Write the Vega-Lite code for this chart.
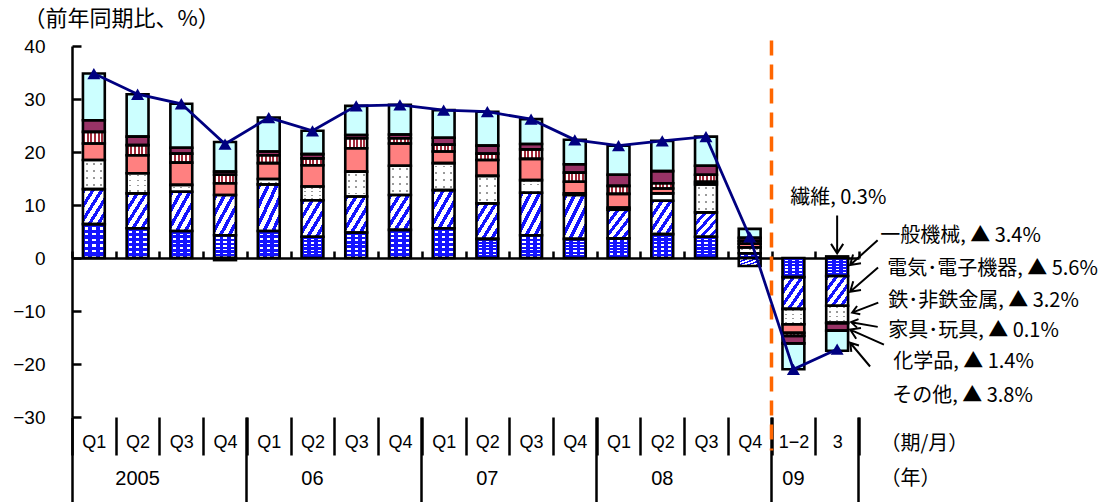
{
  "$schema": "https://vega.github.io/schema/vega-lite/v6.json",
  "width": 787,
  "height": 371,
  "autosize": {"type": "none"},
  "padding": {"left": 72, "top": 46, "right": 243, "bottom": 85},
  "background": "white",
  "config": {"view": {"stroke": null}, "axis": {"grid": false}, "font": "Liberation Sans"},
  "data": {
    "values": [
      {"p": "2005|Q1", "一般機械": 6.4, "電気･電子機器": 6.6, "鉄･非鉄金属": 5.5, "繊維": 3.1, "家具･玩具": 2.2, "化学品": 2.2, "その他": 8.8},
      {"p": "2005|Q2", "一般機械": 5.6, "電気･電子機器": 6.6, "鉄･非鉄金属": 3.8, "繊維": 3.4, "家具･玩具": 1.9, "化学品": 1.6, "その他": 8.0},
      {"p": "2005|Q3", "一般機械": 5.1, "電気･電子機器": 7.4, "鉄･非鉄金属": 1.3, "繊維": 4.2, "家具･玩具": 1.7, "化学品": 1.1, "その他": 8.3},
      {"p": "2005|Q4", "一般機械": 4.3, "電気･電子機器": 7.6, "鉄･非鉄金属": -0.4, "繊維": 2.2, "家具･玩具": 1.6, "化学品": 0.6, "その他": 5.6},
      {"p": "2006|Q1", "一般機械": 5.1, "電気･電子機器": 8.8, "鉄･非鉄金属": 1.0, "繊維": 3.0, "家具･玩具": 1.5, "化学品": 0.7, "その他": 6.4},
      {"p": "2006|Q2", "一般機械": 4.0, "電気･電子機器": 6.9, "鉄･非鉄金属": 2.6, "繊維": 4.0, "家具･玩具": 1.3, "化学品": 0.8, "その他": 4.4},
      {"p": "2006|Q3", "一般機械": 4.8, "電気･電子機器": 6.8, "鉄･非鉄金属": 4.7, "繊維": 4.4, "家具･玩具": 1.9, "化学品": 0.6, "その他": 5.5},
      {"p": "2006|Q4", "一般機械": 5.3, "電気･電子機器": 6.6, "鉄･非鉄金属": 5.5, "繊維": 4.2, "家具･玩具": 1.0, "化学品": 0.7, "その他": 5.6},
      {"p": "2007|Q1", "一般機械": 5.6, "電気･電子機器": 7.2, "鉄･非鉄金属": 5.1, "繊維": 2.2, "家具･玩具": 1.3, "化学品": 1.3, "その他": 5.2},
      {"p": "2007|Q2", "一般機械": 3.6, "電気･電子機器": 6.7, "鉄･非鉄金属": 5.2, "繊維": 3.0, "家具･玩具": 1.2, "化学品": 1.5, "その他": 6.4},
      {"p": "2007|Q3", "一般機械": 4.3, "電気･電子機器": 8.0, "鉄･非鉄金属": 2.4, "繊維": 4.0, "家具･玩具": 1.8, "化学品": 1.0, "その他": 4.7},
      {"p": "2007|Q4", "一般機械": 3.6, "電気･電子機器": 8.3, "鉄･非鉄金属": 0.3, "繊維": 2.2, "家具･玩具": 1.7, "化学品": 1.6, "その他": 4.6},
      {"p": "2008|Q1", "一般機械": 3.7, "電気･電子機器": 5.4, "鉄･非鉄金属": 0.4, "繊維": 2.6, "家具･玩具": 1.5, "化学品": 2.1, "その他": 5.5},
      {"p": "2008|Q2", "一般機械": 4.5, "電気･電子機器": 6.3, "鉄･非鉄金属": 1.4, "繊維": 0.9, "家具･玩具": 1.0, "化学品": 2.3, "その他": 5.7},
      {"p": "2008|Q3", "一般機械": 4.0, "電気･電子機器": 4.6, "鉄･非鉄金属": 5.3, "繊維": 0.5, "家具･玩具": 1.3, "化学品": 1.7, "その他": 5.5},
      {"p": "2008|Q4", "一般機械": 0.9, "電気･電子機器": -1.5, "鉄･非鉄金属": 1.1, "繊維": 0.7, "家具･玩具": 0.5, "化学品": 0.6, "その他": 1.7},
      {"p": "2009|1−2", "一般機械": -3.6, "電気･電子機器": -6.0, "鉄･非鉄金属": -2.9, "繊維": -1.6, "家具･玩具": -0.6, "化学品": -1.4, "その他": -4.9},
      {"p": "2009|3", "一般機械": -3.4, "電気･電子機器": -5.6, "鉄･非鉄金属": -3.2, "繊維": 0.3, "家具･玩具": -0.1, "化学品": -1.4, "その他": -3.8}
    ]
  },
  "transform": [
    {"fold": ["一般機械", "電気･電子機器", "鉄･非鉄金属", "繊維", "家具･玩具", "化学品", "その他"], "as": ["cat", "v"]},
    {"stack": "v", "groupby": ["p"], "as": ["v0", "v1"]},
    {"calculate": "datum.cat + ', ' + (datum.v < 0 ? '▲ ' + format(-datum.v, '.1f') : format(datum.v, '.1f')) + '%'", "as": "lbl"}
  ],
  "resolve": {"axis": {"x": "independent"}},
  "layer": [
    {
      "mark": {"type": "bar", "width": {"band": 0.5}},
      "encoding": {
        "x": {
          "field": "p", "type": "nominal",
          "scale": {"domain": ["2005|Q1","2005|Q2","2005|Q3","2005|Q4","2006|Q1","2006|Q2","2006|Q3","2006|Q4","2007|Q1","2007|Q2","2007|Q3","2007|Q4","2008|Q1","2008|Q2","2008|Q3","2008|Q4","2009|1−2","2009|3"], "paddingInner": 0, "paddingOuter": 0},
          "axis": {
            "orient": "bottom", "tickBand": "extent", "domain": false, "ticks": true,
            "tickSize": 38, "tickWidth": 2.5, "tickColor": "#000",
            "labelExpr": "split(datum.value, '|')[1]", "labelAngle": 0, "labelFontSize": 18,
            "labelPadding": -22, "labelColor": "#000", "labelOverlap": false,
            "title": "（期/月）", "titleX": 808, "titleY": 26, "titleAlign": "left", "titleBaseline": "middle",
            "titleFont": "Noto Sans CJK JP", "titleFontSize": 20, "titleFontWeight": "normal", "titleColor": "#000", "titleAngle": 0
          }
        },
        "y": {
          "field": "v0", "type": "quantitative",
          "scale": {"domain": [-30, 40], "nice": false, "zero": false},
          "axis": {
            "orient": "left", "values": [-30, -20, -10, 0, 10, 20, 30, 40],
            "domainColor": "#000", "domainWidth": 2.5,
            "tickColor": "#000", "tickWidth": 2.5, "tickSize": -9,
            "labelFontSize": 19, "labelColor": "#000", "labelPadding": 36, "labelFlush": false, "labelOverlap": false,
            "title": "（前年同期比、%）", "titleAngle": 0, "titleX": -49, "titleY": -28, "titleAlign": "left", "titleBaseline": "middle",
            "titleFont": "Noto Sans CJK JP", "titleFontSize": 22, "titleFontWeight": "normal", "titleColor": "#000"
          }
        },
        "y2": {"field": "v1"},
        "color": {
          "field": "cat", "type": "nominal",
          "scale": {
            "domain": ["一般機械", "電気･電子機器", "鉄･非鉄金属", "繊維", "家具･玩具", "化学品", "その他"],
            "range": ["#ffffff", "#ffffff", "#9a9a9a", "#ff8080", "#ffffff", "#993366", "#ccffff"]
          },
          "legend": null
        }
      }
    },
    {
      "transform": [{"filter": "datum.cat === '一般機械'"}],
      "mark": {
        "type": "bar", "width": {"band": 0.5},
        "color": {"gradient": "linear", "x1": 0, "y1": 0, "x2": 0, "y2": 1, "stops": [
          {"offset": 0, "color": "#1414ff"}, {"offset": 0.1, "color": "#1414ff"}, {"offset": 0.1, "color": "rgba(20,20,255,0)"}, {"offset": 0.1667, "color": "rgba(20,20,255,0)"},
          {"offset": 0.1667, "color": "#1414ff"}, {"offset": 0.2667, "color": "#1414ff"}, {"offset": 0.2667, "color": "rgba(20,20,255,0)"}, {"offset": 0.3333, "color": "rgba(20,20,255,0)"},
          {"offset": 0.3333, "color": "#1414ff"}, {"offset": 0.4333, "color": "#1414ff"}, {"offset": 0.4333, "color": "rgba(20,20,255,0)"}, {"offset": 0.5, "color": "rgba(20,20,255,0)"},
          {"offset": 0.5, "color": "#1414ff"}, {"offset": 0.6, "color": "#1414ff"}, {"offset": 0.6, "color": "rgba(20,20,255,0)"}, {"offset": 0.6667, "color": "rgba(20,20,255,0)"},
          {"offset": 0.6667, "color": "#1414ff"}, {"offset": 0.7667, "color": "#1414ff"}, {"offset": 0.7667, "color": "rgba(20,20,255,0)"}, {"offset": 0.8333, "color": "rgba(20,20,255,0)"},
          {"offset": 0.8333, "color": "#1414ff"}, {"offset": 0.9333, "color": "#1414ff"}, {"offset": 0.9333, "color": "rgba(20,20,255,0)"}, {"offset": 1, "color": "rgba(20,20,255,0)"}
        ]}
      },
      "encoding": {
        "x": {"field": "p", "type": "nominal", "axis": {
          "orient": "bottom", "values": ["2005|Q4", "2006|Q4", "2007|Q4", "2008|Q4", "2009|3"], "bandPosition": 1,
          "domain": false, "labels": false, "ticks": true, "tickSize": 85, "tickWidth": 2.5, "tickColor": "#000", "title": null
        }},
        "y": {"field": "v0", "type": "quantitative"},
        "y2": {"field": "v1"}
      }
    },
    {
      "transform": [{"filter": "datum.cat === '一般機械'"}],
      "mark": {
        "type": "bar", "width": {"band": 0.5},
        "color": {"gradient": "linear", "x1": 0, "y1": 0, "x2": 1, "y2": 0, "stops": [
          {"offset": 0, "color": "#1414ff"}, {"offset": 0.1, "color": "#1414ff"}, {"offset": 0.1, "color": "rgba(20,20,255,0)"}, {"offset": 0.25, "color": "rgba(20,20,255,0)"},
          {"offset": 0.25, "color": "#1414ff"}, {"offset": 0.43, "color": "#1414ff"}, {"offset": 0.43, "color": "rgba(20,20,255,0)"}, {"offset": 0.58, "color": "rgba(20,20,255,0)"},
          {"offset": 0.58, "color": "#1414ff"}, {"offset": 0.76, "color": "#1414ff"}, {"offset": 0.76, "color": "rgba(20,20,255,0)"}, {"offset": 0.91, "color": "rgba(20,20,255,0)"},
          {"offset": 0.91, "color": "#1414ff"}, {"offset": 1, "color": "#1414ff"}
        ]}
      },
      "encoding": {
        "x": {"field": "p", "type": "nominal", "axis": {
          "orient": "bottom", "values": ["2005|Q1"], "bandPosition": 0,
          "domain": false, "labels": false, "ticks": true, "tickSize": 85, "tickWidth": 2.5, "tickColor": "#000", "title": null
        }},
        "y": {"field": "v0", "type": "quantitative"},
        "y2": {"field": "v1"}
      }
    },
    {
      "transform": [{"filter": "datum.cat === '電気･電子機器'"}],
      "mark": {
        "type": "bar", "width": {"band": 0.5},
        "color": {"gradient": "linear", "x1": 0, "y1": 0, "x2": 1, "y2": 1, "stops": [
          {"offset": 0, "color": "#1414ff"}, {"offset": 0.09, "color": "#1414ff"}, {"offset": 0.09, "color": "rgba(20,20,255,0)"}, {"offset": 0.2, "color": "rgba(20,20,255,0)"},
          {"offset": 0.2, "color": "#1414ff"}, {"offset": 0.29, "color": "#1414ff"}, {"offset": 0.29, "color": "rgba(20,20,255,0)"}, {"offset": 0.4, "color": "rgba(20,20,255,0)"},
          {"offset": 0.4, "color": "#1414ff"}, {"offset": 0.49, "color": "#1414ff"}, {"offset": 0.49, "color": "rgba(20,20,255,0)"}, {"offset": 0.6, "color": "rgba(20,20,255,0)"},
          {"offset": 0.6, "color": "#1414ff"}, {"offset": 0.69, "color": "#1414ff"}, {"offset": 0.69, "color": "rgba(20,20,255,0)"}, {"offset": 0.8, "color": "rgba(20,20,255,0)"},
          {"offset": 0.8, "color": "#1414ff"}, {"offset": 0.89, "color": "#1414ff"}, {"offset": 0.89, "color": "rgba(20,20,255,0)"}, {"offset": 1, "color": "rgba(20,20,255,0)"}
        ]}
      },
      "encoding": {
        "x": {"field": "p", "type": "nominal", "axis": {
          "orient": "bottom", "values": ["2005|Q2", "2006|Q2", "2007|Q2", "2008|Q2", "2009|1−2"], "bandPosition": 1,
          "domain": false, "ticks": false,
          "labelExpr": "split(datum.value, '|')[0] === '2005' ? '2005' : substring(split(datum.value, '|')[0], 2, 4)",
          "labelAngle": 0, "labelFontSize": 20, "labelPadding": 51, "labelColor": "#000", "labelOverlap": false,
          "title": "（年）", "titleX": 808, "titleY": 61, "titleAlign": "left", "titleBaseline": "middle",
          "titleFont": "Noto Sans CJK JP", "titleFontSize": 20, "titleFontWeight": "normal", "titleColor": "#000", "titleAngle": 0
        }},
        "y": {"field": "v0", "type": "quantitative"},
        "y2": {"field": "v1"}
      }
    },
    {
      "transform": [{"filter": "datum.cat === '鉄･非鉄金属'"}],
      "mark": {
        "type": "bar", "width": {"band": 0.5},
        "color": {"gradient": "linear", "x1": 0, "y1": 0, "x2": 0, "y2": 1, "stops": [
          {"offset": 0, "color": "#ffffff"}, {"offset": 0.09, "color": "#ffffff"}, {"offset": 0.09, "color": "rgba(255,255,255,0)"}, {"offset": 0.16, "color": "rgba(255,255,255,0)"},
          {"offset": 0.16, "color": "#ffffff"}, {"offset": 0.34, "color": "#ffffff"}, {"offset": 0.34, "color": "rgba(255,255,255,0)"}, {"offset": 0.41, "color": "rgba(255,255,255,0)"},
          {"offset": 0.41, "color": "#ffffff"}, {"offset": 0.59, "color": "#ffffff"}, {"offset": 0.59, "color": "rgba(255,255,255,0)"}, {"offset": 0.66, "color": "rgba(255,255,255,0)"},
          {"offset": 0.66, "color": "#ffffff"}, {"offset": 0.84, "color": "#ffffff"}, {"offset": 0.84, "color": "rgba(255,255,255,0)"}, {"offset": 0.91, "color": "rgba(255,255,255,0)"},
          {"offset": 0.91, "color": "#ffffff"}, {"offset": 1, "color": "#ffffff"}
        ]}
      },
      "encoding": {
        "x": {"field": "p", "type": "nominal", "axis": {
          "orient": "top", "offset": -212, "tickBand": "extent",
          "domain": true, "domainColor": "#000", "domainWidth": 2.5,
          "ticks": true, "tickSize": 7, "tickWidth": 2.5, "tickColor": "#000", "labels": false, "title": null
        }},
        "y": {"field": "v0", "type": "quantitative"},
        "y2": {"field": "v1"}
      }
    },
    {
      "transform": [{"filter": "datum.cat === '鉄･非鉄金属'"}],
      "mark": {
        "type": "bar", "width": {"band": 0.5},
        "color": {"gradient": "linear", "x1": 0, "y1": 0, "x2": 1, "y2": 0, "stops": [
          {"offset": 0, "color": "#ffffff"}, {"offset": 0.12, "color": "#ffffff"}, {"offset": 0.12, "color": "rgba(255,255,255,0)"}, {"offset": 0.21, "color": "rgba(255,255,255,0)"},
          {"offset": 0.21, "color": "#ffffff"}, {"offset": 0.455, "color": "#ffffff"}, {"offset": 0.455, "color": "rgba(255,255,255,0)"}, {"offset": 0.545, "color": "rgba(255,255,255,0)"},
          {"offset": 0.545, "color": "#ffffff"}, {"offset": 0.79, "color": "#ffffff"}, {"offset": 0.79, "color": "rgba(255,255,255,0)"}, {"offset": 0.88, "color": "rgba(255,255,255,0)"},
          {"offset": 0.88, "color": "#ffffff"}, {"offset": 1, "color": "#ffffff"}
        ]}
      },
      "encoding": {
        "x": {"field": "p", "type": "nominal", "axis": {
          "orient": "top", "offset": 6, "values": ["2009|1−2"], "bandPosition": 0,
          "domain": false, "labels": false, "ticks": true, "tickSize": -410, "tickWidth": 3.5,
          "tickColor": "#ff6600", "tickDash": [15, 9], "title": null
        }},
        "y": {"field": "v0", "type": "quantitative"},
        "y2": {"field": "v1"}
      }
    },
    {
      "transform": [{"filter": "datum.cat === '家具･玩具'"}],
      "mark": {
        "type": "bar", "width": {"band": 0.5},
        "color": {"gradient": "linear", "x1": 0, "y1": 0, "x2": 1, "y2": 0, "stops": [
          {"offset": 0, "color": "#a12a3a"}, {"offset": 0.0917, "color": "#a12a3a"}, {"offset": 0.0917, "color": "rgba(161,42,58,0)"}, {"offset": 0.1667, "color": "rgba(161,42,58,0)"},
          {"offset": 0.1667, "color": "#a12a3a"}, {"offset": 0.2583, "color": "#a12a3a"}, {"offset": 0.2583, "color": "rgba(161,42,58,0)"}, {"offset": 0.3333, "color": "rgba(161,42,58,0)"},
          {"offset": 0.3333, "color": "#a12a3a"}, {"offset": 0.425, "color": "#a12a3a"}, {"offset": 0.425, "color": "rgba(161,42,58,0)"}, {"offset": 0.5, "color": "rgba(161,42,58,0)"},
          {"offset": 0.5, "color": "#a12a3a"}, {"offset": 0.5917, "color": "#a12a3a"}, {"offset": 0.5917, "color": "rgba(161,42,58,0)"}, {"offset": 0.6667, "color": "rgba(161,42,58,0)"},
          {"offset": 0.6667, "color": "#a12a3a"}, {"offset": 0.7583, "color": "#a12a3a"}, {"offset": 0.7583, "color": "rgba(161,42,58,0)"}, {"offset": 0.8333, "color": "rgba(161,42,58,0)"},
          {"offset": 0.8333, "color": "#a12a3a"}, {"offset": 0.925, "color": "#a12a3a"}, {"offset": 0.925, "color": "rgba(161,42,58,0)"}, {"offset": 1, "color": "rgba(161,42,58,0)"}
        ]}
      },
      "encoding": {
        "x": {"field": "p", "type": "nominal", "axis": null},
        "y": {"field": "v0", "type": "quantitative"},
        "y2": {"field": "v1"}
      }
    },
    {
      "mark": {"type": "bar", "width": {"band": 0.5}, "fillOpacity": 0, "stroke": "#000", "strokeWidth": 2.6},
      "encoding": {
        "x": {"field": "p", "type": "nominal", "axis": null},
        "y": {"field": "v0", "type": "quantitative"},
        "y2": {"field": "v1"}
      }
    },
    {
      "mark": {"type": "line", "color": "#000080", "strokeWidth": 2.8,
        "point": {"shape": "triangle-up", "size": 170, "color": "#000080", "filled": true, "opacity": 1}},
      "encoding": {
        "x": {"field": "p", "type": "nominal", "axis": null},
        "y": {"aggregate": "sum", "field": "v", "type": "quantitative"}
      }
    },
    {
      "transform": [{"filter": "datum.p === '2009|3' && datum.cat === '繊維'"}],
      "mark": {"type": "text", "align": "left", "baseline": "middle", "dx": -47, "dy": -58, "font": "Noto Sans CJK JP", "fontSize": 20, "color": "#000"},
      "encoding": {"x": {"field": "p", "type": "nominal", "axis": null}, "y": {"field": "v1", "type": "quantitative"}, "text": {"field": "lbl"}}
    },
    {
      "transform": [{"filter": "datum.p === '2009|3' && datum.cat === '繊維'"}],
      "mark": {"type": "point", "shape": "M0,0L-2,0M-0.5,-0.32L0,0L-0.5,0.32", "size": 1444, "angle": 90, "filled": false, "color": "#000", "stroke": "#000", "strokeWidth": 2, "opacity": 1, "xOffset": 0, "yOffset": -3},
      "encoding": {"x": {"field": "p", "type": "nominal", "axis": null}, "y": {"field": "v1", "type": "quantitative"}}
    },
    {
      "transform": [{"filter": "datum.p === '2009|3' && datum.cat === '一般機械'"}],
      "mark": {"type": "text", "align": "left", "baseline": "middle", "dx": 43, "dy": -40, "font": "Noto Sans CJK JP", "fontSize": 20, "color": "#000"},
      "encoding": {"x": {"field": "p", "type": "nominal", "axis": null}, "y": {"field": "v1", "type": "quantitative"}, "text": {"field": "lbl"}}
    },
    {
      "transform": [{"filter": "datum.p === '2009|3' && datum.cat === '一般機械'"}],
      "mark": {"type": "point", "shape": "M0,0L-2,0M-0.5,-0.32L0,0L-0.5,0.32", "size": 1369, "angle": 138, "filled": false, "color": "#000", "stroke": "#000", "strokeWidth": 2, "opacity": 1, "xOffset": 13, "yOffset": -11},
      "encoding": {"x": {"field": "p", "type": "nominal", "axis": null}, "y": {"field": "v1", "type": "quantitative"}}
    },
    {
      "transform": [{"filter": "datum.p === '2009|3' && datum.cat === '電気･電子機器'"}],
      "mark": {"type": "text", "align": "left", "baseline": "middle", "dx": 50, "dy": -37, "font": "Noto Sans CJK JP", "fontSize": 20, "color": "#000"},
      "encoding": {"x": {"field": "p", "type": "nominal", "axis": null}, "y": {"field": "v1", "type": "quantitative"}, "text": {"field": "lbl"}}
    },
    {
      "transform": [{"filter": "datum.p === '2009|3' && datum.cat === '電気･電子機器'"}],
      "mark": {"type": "point", "shape": "M0,0L-2,0M-0.5,-0.32L0,0L-0.5,0.32", "size": 1369, "angle": 139, "filled": false, "color": "#000", "stroke": "#000", "strokeWidth": 2, "opacity": 1, "xOffset": 13, "yOffset": -14},
      "encoding": {"x": {"field": "p", "type": "nominal", "axis": null}, "y": {"field": "v1", "type": "quantitative"}}
    },
    {
      "transform": [{"filter": "datum.p === '2009|3' && datum.cat === '鉄･非鉄金属'"}],
      "mark": {"type": "text", "align": "left", "baseline": "middle", "dx": 51, "dy": -22, "font": "Noto Sans CJK JP", "fontSize": 20, "color": "#000"},
      "encoding": {"x": {"field": "p", "type": "nominal", "axis": null}, "y": {"field": "v1", "type": "quantitative"}, "text": {"field": "lbl"}}
    },
    {
      "transform": [{"filter": "datum.p === '2009|3' && datum.cat === '鉄･非鉄金属'"}],
      "mark": {"type": "point", "shape": "M0,0L-2,0M-0.5,-0.32L0,0L-0.5,0.32", "size": 784, "angle": 159, "filled": false, "color": "#000", "stroke": "#000", "strokeWidth": 2, "opacity": 1, "xOffset": 15, "yOffset": -10},
      "encoding": {"x": {"field": "p", "type": "nominal", "axis": null}, "y": {"field": "v1", "type": "quantitative"}}
    },
    {
      "transform": [{"filter": "datum.p === '2009|3' && datum.cat === '家具･玩具'"}],
      "mark": {"type": "text", "align": "left", "baseline": "middle", "dx": 51, "dy": 8, "font": "Noto Sans CJK JP", "fontSize": 20, "color": "#000"},
      "encoding": {"x": {"field": "p", "type": "nominal", "axis": null}, "y": {"field": "v1", "type": "quantitative"}, "text": {"field": "lbl"}}
    },
    {
      "transform": [{"filter": "datum.p === '2009|3' && datum.cat === '家具･玩具'"}],
      "mark": {"type": "point", "shape": "M0,0L-2,0M-0.5,-0.32L0,0L-0.5,0.32", "size": 729, "angle": 190, "filled": false, "color": "#000", "stroke": "#000", "strokeWidth": 2, "opacity": 1, "xOffset": 14, "yOffset": -1},
      "encoding": {"x": {"field": "p", "type": "nominal", "axis": null}, "y": {"field": "v1", "type": "quantitative"}}
    },
    {
      "transform": [{"filter": "datum.p === '2009|3' && datum.cat === '化学品'"}],
      "mark": {"type": "text", "align": "left", "baseline": "middle", "dx": 56, "dy": 31, "font": "Noto Sans CJK JP", "fontSize": 20, "color": "#000"},
      "encoding": {"x": {"field": "p", "type": "nominal", "axis": null}, "y": {"field": "v1", "type": "quantitative"}, "text": {"field": "lbl"}}
    },
    {
      "transform": [{"filter": "datum.p === '2009|3' && datum.cat === '化学品'"}],
      "mark": {"type": "point", "shape": "M0,0L-2,0M-0.5,-0.32L0,0L-0.5,0.32", "size": 1369, "angle": 204, "filled": false, "color": "#000", "stroke": "#000", "strokeWidth": 2, "opacity": 1, "xOffset": 13, "yOffset": -1},
      "encoding": {"x": {"field": "p", "type": "nominal", "axis": null}, "y": {"field": "v1", "type": "quantitative"}}
    },
    {
      "transform": [{"filter": "datum.p === '2009|3' && datum.cat === 'その他'"}],
      "mark": {"type": "text", "align": "left", "baseline": "middle", "dx": 55, "dy": 45, "font": "Noto Sans CJK JP", "fontSize": 20, "color": "#000"},
      "encoding": {"x": {"field": "p", "type": "nominal", "axis": null}, "y": {"field": "v1", "type": "quantitative"}, "text": {"field": "lbl"}}
    },
    {
      "transform": [{"filter": "datum.p === '2009|3' && datum.cat === 'その他'"}],
      "mark": {"type": "point", "shape": "M0,0L-2,0M-0.5,-0.32L0,0L-0.5,0.32", "size": 961, "angle": 230, "filled": false, "color": "#000", "stroke": "#000", "strokeWidth": 2, "opacity": 1, "xOffset": 13, "yOffset": -8},
      "encoding": {"x": {"field": "p", "type": "nominal", "axis": null}, "y": {"field": "v1", "type": "quantitative"}}
    }
  ]
}
